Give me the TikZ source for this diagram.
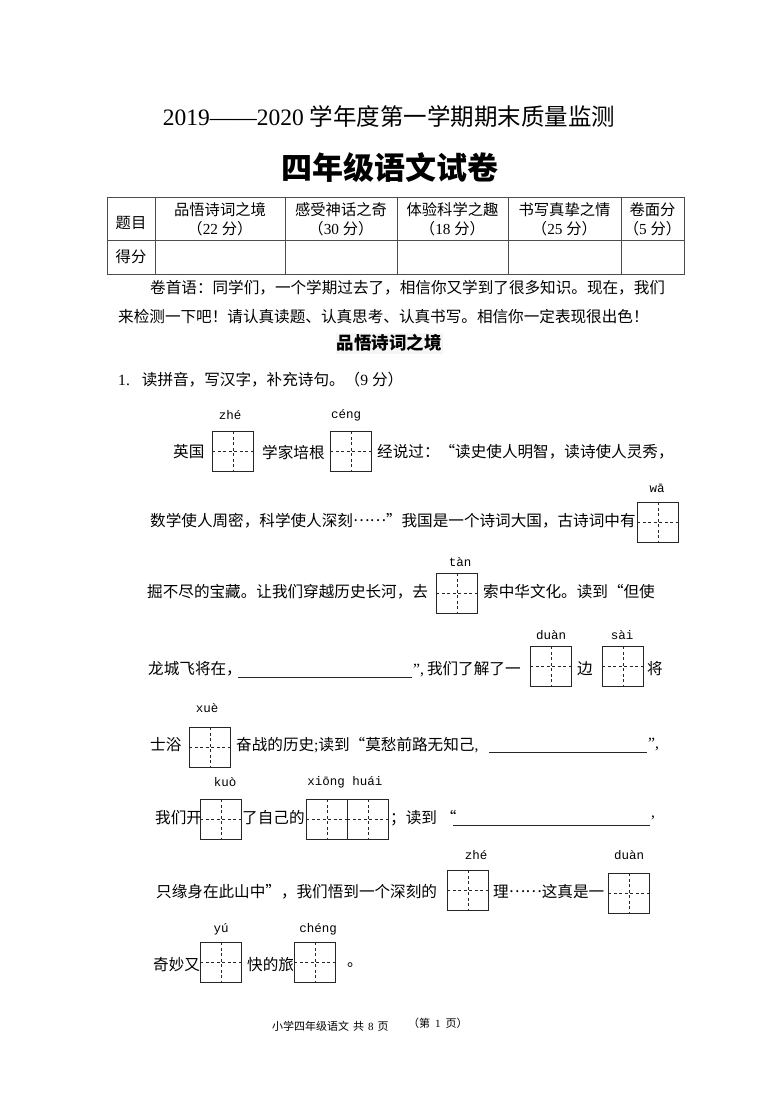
\documentclass[tikz,border=0pt]{standalone}
\usepackage{fontspec}
\setmainfont{Liberation Serif}
\newfontfamily\cj[RawFeature=+fwid]{Noto Sans CJK SC}
\newfontfamily\pyf{Liberation Mono}
\newcommand\la[1]{{\rmfamily#1}}
\newcommand\ellip{\raisebox{0.33em}{……}}
\newcommand\bodysz{\fontsize{15.6}{18}\selectfont}
\newcommand\tabsz{\fontsize{15.3}{18}\selectfont}
\begin{document}
\begin{tikzpicture}[x=1pt,y=-1pt,
  txt/.style={anchor=west,inner sep=0pt,font=\cj\bodysz},
  ctxt/.style={anchor=center,inner sep=0pt,font=\cj\tabsz},
  py/.style={anchor=center,inner sep=0pt,font=\pyf\fontsize{12.5}{14}\selectfont},
  tzg/.style={draw=black!85,line width=0.9pt,minimum width=41pt,minimum height=40pt,
    inner sep=0pt,anchor=north west,
    path picture={\draw[black!85,line width=0.8pt,dash pattern=on 3pt off 2.5pt]
      (path picture bounding box.north) -- (path picture bounding box.south)
      (path picture bounding box.west) -- (path picture bounding box.east);}},
  uline/.style={line width=0.8pt,black!85},
  tline/.style={line width=0.9pt,black!70},
  foot/.style={anchor=west,inner sep=0pt,font=\cj\fontsize{11}{13}\selectfont}]
\useasboundingbox[fill=white] (0,0) rectangle (780,1103);

% titles
\node[inner sep=0pt,font=\fontsize{23.5}{26}\selectfont] (title1) at (389,117)
  {2019——2020 {\cj 学年度第一学期期末质量监测}};
\node[inner sep=0pt,font=\cj\bfseries\fontsize{31}{34}\selectfont] (title2) at (390,168) {四年级语文试卷};

% table
\draw[tline] (107,197) rectangle (684,274);
\draw[tline] (107,240) -- (684,240);
\foreach \cx in {155,285,397,508,621} \draw[tline] (\cx,197) -- (\cx,274);
\node[ctxt] (th0) at (131,223) {题目};
\node[ctxt] (tr0) at (131,257) {得分};
\node[ctxt] (th1a) at (220,210) {品悟诗词之境};
\node[ctxt] (th1b) at (220,229) {（\la{22 }分）};
\node[ctxt] (th2a) at (341,210) {感受神话之奇};
\node[ctxt] (th2b) at (341,229) {（\la{30 }分）};
\node[ctxt] (th3a) at (452.5,210) {体验科学之趣};
\node[ctxt] (th3b) at (452.5,229) {（\la{18 }分）};
\node[ctxt] (th4a) at (564.5,210) {书写真挚之情};
\node[ctxt] (th4b) at (564.5,229) {（\la{25 }分）};
\node[ctxt] (th5a) at (652.5,210) {卷面分};
\node[ctxt] (th5b) at (652.5,229) {（\la{5 }分）};

% preface
\node[txt] (p1) at (150,288) {卷首语：同学们，一个学期过去了，相信你又学到了很多知识。现在，我们};
\node[txt] (p2) at (118,317) {来检测一下吧！请认真读题、认真思考、认真书写。相信你一定表现很出色！};
\node[fill=black!4,inner xsep=1pt,inner ysep=2pt,font=\cj\bfseries\fontsize{17.5}{20}\selectfont] (h1) at (389,343) {品悟诗词之境};
\node[txt] (q1) at (118,380) {\la{1.}\hspace{12pt}读拼音，写汉字，补充诗句。（\la{9 }分）};

% line 1
\node[txt] (l1a) at (173,452) {英国};
\node[tzg] (b1) at (212,431) {};
\node[py] (py1) at (230,415) {zhé};
\node[txt] (l1b) at (262,452) {学家培根};
\node[tzg] (b2) at (330,431) {};
\node[py] (py2) at (346,415) {céng};
\node[txt] (l1c) at (377,452) {经说过：“读史使人明智，读诗使人灵秀，};

% line 2
\node[txt] (l2a) at (150,521) {数学使人周密，科学使人深刻\ellip”我国是一个诗词大国，古诗词中有};
\node[tzg] (b3) at (637,502) {};
\node[py] (py3) at (657,488) {wā};

% line 3
\node[txt] (l3a) at (147,592) {掘不尽的宝藏。让我们穿越历史长河，去};
\node[tzg] (b4) at (436,573) {};
\node[py] (py4) at (460,562) {tàn};
\node[txt] (l3b) at (483,592) {索中华文化。读到“但使};

% line 4
\node[txt] (l4a) at (148,669) {龙城飞将在，};
\coordinate (u1a) at (238,677);
\coordinate (u1b) at (412,677);
\draw[uline] (u1a) -- (u1b);
\node[txt] (l4b) at (413,669) {\la{”,}\hspace{3pt}我们了解了一};
\node[tzg] (b5) at (530,646) {};
\node[py] (py5) at (551,635) {duàn};
\node[txt] (l4c) at (577,669) {边};
\node[tzg] (b6) at (602,646) {};
\node[py] (py6) at (622,635) {sài};
\node[txt] (l4d) at (647,669) {将};

% line 5
\node[txt] (l5a) at (150,745) {士浴};
\node[tzg] (b7) at (189,727) {};
\node[py] (py7) at (207,708) {xuè};
\node[txt] (l5b) at (236,745) {奋战的历史\la{;}读到“莫愁前路无知己\la{,}};
\coordinate (u2a) at (489,752);
\coordinate (u2b) at (647,752);
\draw[uline] (u2a) -- (u2b);
\node[txt] (l5c) at (648,745) {\la{”,}};

% line 6
\node[txt] (l6a) at (155,818) {我们开};
\node[tzg] (b8) at (200,799) {};
\node[py] (py8) at (225,782) {kuò};
\node[txt] (l6b) at (242,818) {了自己的};
\node[tzg] (b9) at (306,799) {};
\node[tzg] (b10) at (347,799) {};
\node[py] (py9) at (345,782) {xiōng huái};
\node[txt] (l6c) at (390,818) {；读到\la{ }“};
\coordinate (u3a) at (453,825);
\coordinate (u3b) at (650,825);
\draw[uline] (u3a) -- (u3b);
\node[txt] (l6d) at (651,818) {\la{,}};

% line 7
\node[txt] (l7a) at (156,892) {只缘身在此山中”，我们悟到一个深刻的};
\node[tzg] (b11) at (447,870) {};
\node[py] (py11) at (476,855) {zhé};
\node[txt] (l7b) at (493,892) {理\ellip 这真是一};
\node[tzg] (b12) at (608,873) {};
\node[py] (py12) at (629,855) {duàn};

% line 8
\node[txt] (l8a) at (153,965) {奇妙又};
\node[tzg] (b13) at (200,942) {};
\node[py] (py13) at (221,929) {yú};
\node[txt] (l8b) at (247,965) {快的旅};
\node[tzg] (b14) at (294,942) {};
\node[py] (py14) at (318,929) {chéng};
\node[txt] (l8c) at (347,965) {。};

% footer
\node[foot] (f1) at (272,1026) {小学四年级语文\hspace{4pt}共\hspace{4pt}\la{8}\hspace{4pt}页};
\node[foot] (f2) at (408,1023) {（第\hspace{5pt}\la{1}\hspace{5pt}页）};
\end{tikzpicture}
\end{document}
